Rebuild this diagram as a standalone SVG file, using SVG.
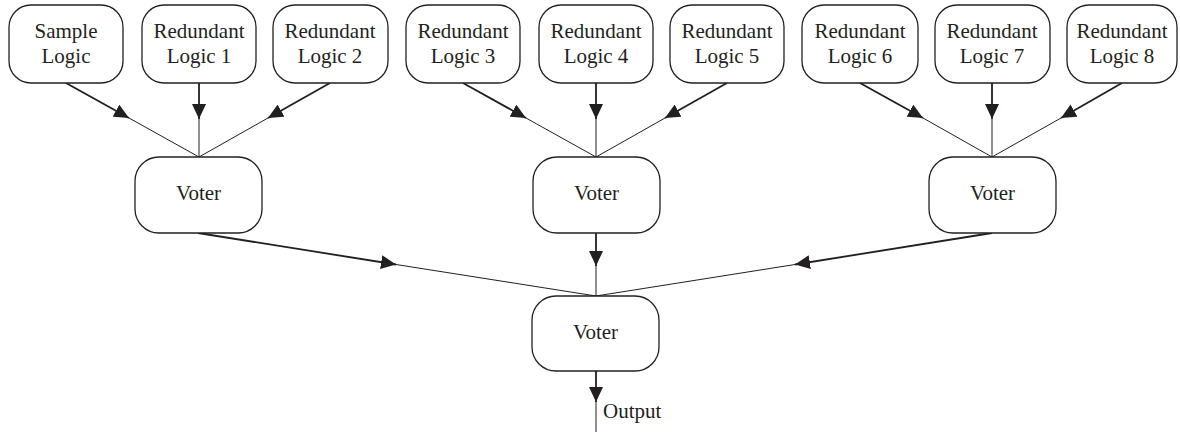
<svg xmlns="http://www.w3.org/2000/svg" width="1180" height="432" viewBox="0 0 1180 432">
<style>
.box{fill:#fff;stroke:#231f20;stroke-width:1.3}
.t{font-family:"Liberation Serif",serif;font-size:21px;fill:#231f20;text-anchor:middle}
.thick{stroke:#231f20;stroke-width:1.8;fill:none}
.thin{stroke:#231f20;stroke-width:1;fill:none}
</style>
<defs>
<marker id="ah" markerUnits="userSpaceOnUse" markerWidth="16" markerHeight="14" viewBox="0 0 16 14" refX="15" refY="7" orient="auto">
<path d="M0,0 L15,7 L0,14 z" fill="#231f20"/>
</marker>
</defs>
<rect width="1180" height="432" fill="#fff"/>
<g id="connectors">
<!-- group 1 -->
<line class="thick" x1="66" y1="83" x2="129" y2="118" marker-end="url(#ah)"/>
<line class="thin" x1="129" y1="118" x2="199" y2="157"/>
<line class="thick" x1="199" y1="83" x2="199" y2="119" marker-end="url(#ah)"/>
<line class="thin" x1="199" y1="119" x2="199" y2="157"/>
<line class="thick" x1="330" y1="83" x2="268" y2="118" marker-end="url(#ah)"/>
<line class="thin" x1="268" y1="118" x2="199" y2="157"/>
<!-- group 2 -->
<line class="thick" x1="463" y1="83" x2="526" y2="118" marker-end="url(#ah)"/>
<line class="thin" x1="526" y1="118" x2="596" y2="157"/>
<line class="thick" x1="596" y1="83" x2="596" y2="119" marker-end="url(#ah)"/>
<line class="thin" x1="596" y1="119" x2="596" y2="157"/>
<line class="thick" x1="727" y1="83" x2="665" y2="118" marker-end="url(#ah)"/>
<line class="thin" x1="665" y1="118" x2="596" y2="157"/>
<!-- group 3 -->
<line class="thick" x1="860" y1="83" x2="923" y2="118" marker-end="url(#ah)"/>
<line class="thin" x1="923" y1="118" x2="992" y2="157"/>
<line class="thick" x1="992" y1="83" x2="992" y2="119" marker-end="url(#ah)"/>
<line class="thin" x1="992" y1="119" x2="992" y2="157"/>
<line class="thick" x1="1122" y1="83" x2="1061" y2="118" marker-end="url(#ah)"/>
<line class="thin" x1="1061" y1="118" x2="992" y2="157"/>
<!-- voters to final -->
<line class="thick" x1="198" y1="233" x2="396" y2="264.5" marker-end="url(#ah)"/>
<line class="thin" x1="396" y1="264.5" x2="596" y2="296"/>
<line class="thick" x1="596" y1="233" x2="596" y2="266" marker-end="url(#ah)"/>
<line class="thin" x1="596" y1="266" x2="596" y2="296"/>
<line class="thick" x1="992" y1="233" x2="795" y2="264.5" marker-end="url(#ah)"/>
<line class="thin" x1="795" y1="264.5" x2="596" y2="296"/>
<!-- output -->
<line class="thick" x1="596" y1="371" x2="596" y2="402" marker-end="url(#ah)"/>
<line class="thin" x1="596" y1="402" x2="596" y2="432"/>
</g>
<g id="n-sample"><rect class="box" x="9" y="5" width="114" height="78" rx="22"/><text class="t" x="66" y="38">Sample</text><text class="t" x="66" y="63">Logic</text></g>
<g id="n-r1"><rect class="box" x="142" y="5" width="114" height="78" rx="22"/><text class="t" x="199" y="38">Redundant</text><text class="t" x="199" y="63">Logic 1</text></g>
<g id="n-r2"><rect class="box" x="273" y="5" width="115" height="78" rx="22"/><text class="t" x="330" y="38">Redundant</text><text class="t" x="330" y="63">Logic 2</text></g>
<g id="n-r3"><rect class="box" x="406" y="5" width="114" height="78" rx="22"/><text class="t" x="463" y="38">Redundant</text><text class="t" x="463" y="63">Logic 3</text></g>
<g id="n-r4"><rect class="box" x="539" y="5" width="114" height="78" rx="22"/><text class="t" x="596" y="38">Redundant</text><text class="t" x="596" y="63">Logic 4</text></g>
<g id="n-r5"><rect class="box" x="670" y="5" width="114" height="78" rx="22"/><text class="t" x="727" y="38">Redundant</text><text class="t" x="727" y="63">Logic 5</text></g>
<g id="n-r6"><rect class="box" x="802" y="5" width="116" height="78" rx="22"/><text class="t" x="860" y="38">Redundant</text><text class="t" x="860" y="63">Logic 6</text></g>
<g id="n-r7"><rect class="box" x="935" y="5" width="115" height="78" rx="22"/><text class="t" x="992" y="38">Redundant</text><text class="t" x="992" y="63">Logic 7</text></g>
<g id="n-r8"><rect class="box" x="1067" y="5" width="110" height="78" rx="22"/><text class="t" x="1122" y="38">Redundant</text><text class="t" x="1122" y="63">Logic 8</text></g>
<g id="n-v1"><rect class="box" x="135" y="157" width="127" height="76" rx="24"/><text class="t" x="198.5" y="200">Voter</text></g>
<g id="n-v2"><rect class="box" x="533" y="157" width="127" height="76" rx="24"/><text class="t" x="596.5" y="200">Voter</text></g>
<g id="n-v3"><rect class="box" x="929" y="157" width="127" height="76" rx="24"/><text class="t" x="992.5" y="200">Voter</text></g>
<g id="n-vf"><rect class="box" x="532" y="296" width="127" height="75" rx="24"/><text class="t" x="595.5" y="339">Voter</text></g>
<g id="n-out"><text class="t" x="603" y="418" style="text-anchor:start">Output</text></g>
</svg>
